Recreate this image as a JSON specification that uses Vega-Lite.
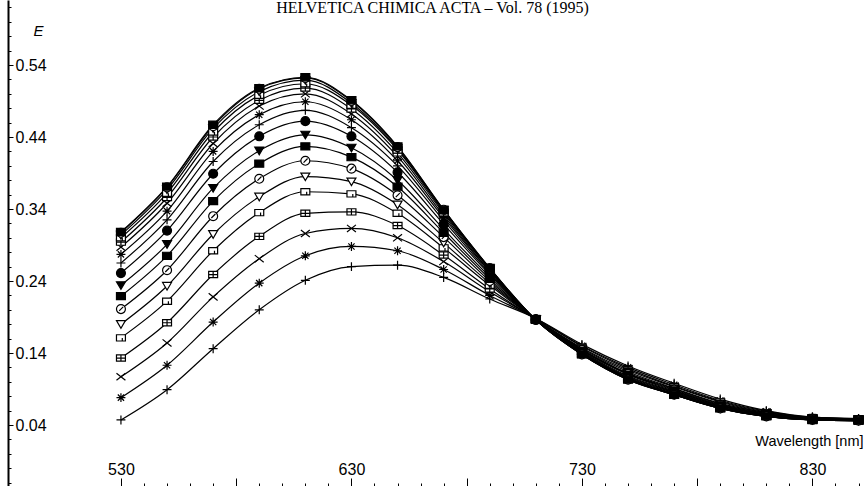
{
  "$schema": "https://vega.github.io/schema/vega-lite/v6.json",
  "width": 857,
  "height": 488,
  "autosize": {"type": "none"},
  "padding": {"left": 8, "top": 0, "right": 0, "bottom": 0},
  "background": "white",
  "config": {"view": {"stroke": null}, "font": "Liberation Sans"},
  "title": {"text": "HELVETICA CHIMICA ACTA – Vol. 78 (1995)", "font": "Liberation Serif", "fontSize": 16, "fontWeight": "normal", "color": "black", "anchor": "middle", "frame": "group", "offset": -17, "dx": -4},
  "data": {"values": [
    {"s":1,"nm":530,"E":0.047},{"s":1,"nm":550,"E":0.089},{"s":1,"nm":570,"E":0.146},{"s":1,"nm":590,"E":0.200},{"s":1,"nm":610,"E":0.241},{"s":1,"nm":630,"E":0.260},{"s":1,"nm":650,"E":0.262},{"s":1,"nm":670,"E":0.245},{"s":1,"nm":690,"E":0.215},{"s":1,"nm":710,"E":0.188},{"s":1,"nm":730,"E":0.152},{"s":1,"nm":750,"E":0.122},{"s":1,"nm":770,"E":0.098},{"s":1,"nm":790,"E":0.076},{"s":1,"nm":810,"E":0.060},{"s":1,"nm":830,"E":0.051},{"s":1,"nm":850,"E":0.049},
    {"s":2,"nm":530,"E":0.078},{"s":2,"nm":550,"E":0.123},{"s":2,"nm":570,"E":0.183},{"s":2,"nm":590,"E":0.237},{"s":2,"nm":610,"E":0.275},{"s":2,"nm":630,"E":0.288},{"s":2,"nm":650,"E":0.282},{"s":2,"nm":670,"E":0.256},{"s":2,"nm":690,"E":0.220},{"s":2,"nm":710,"E":0.188},{"s":2,"nm":730,"E":0.150},{"s":2,"nm":750,"E":0.120},{"s":2,"nm":770,"E":0.096},{"s":2,"nm":790,"E":0.074},{"s":2,"nm":810,"E":0.059},{"s":2,"nm":830,"E":0.051},{"s":2,"nm":850,"E":0.049},
    {"s":3,"nm":530,"E":0.107},{"s":3,"nm":550,"E":0.154},{"s":3,"nm":570,"E":0.218},{"s":3,"nm":590,"E":0.271},{"s":3,"nm":610,"E":0.306},{"s":3,"nm":630,"E":0.313},{"s":3,"nm":650,"E":0.300},{"s":3,"nm":670,"E":0.267},{"s":3,"nm":690,"E":0.225},{"s":3,"nm":710,"E":0.188},{"s":3,"nm":730,"E":0.149},{"s":3,"nm":750,"E":0.118},{"s":3,"nm":770,"E":0.094},{"s":3,"nm":790,"E":0.073},{"s":3,"nm":810,"E":0.058},{"s":3,"nm":830,"E":0.050},{"s":3,"nm":850,"E":0.048},
    {"s":4,"nm":530,"E":0.133},{"s":4,"nm":550,"E":0.182},{"s":4,"nm":570,"E":0.249},{"s":4,"nm":590,"E":0.302},{"s":4,"nm":610,"E":0.334},{"s":4,"nm":630,"E":0.336},{"s":4,"nm":650,"E":0.317},{"s":4,"nm":670,"E":0.276},{"s":4,"nm":690,"E":0.229},{"s":4,"nm":710,"E":0.187},{"s":4,"nm":730,"E":0.147},{"s":4,"nm":750,"E":0.116},{"s":4,"nm":770,"E":0.093},{"s":4,"nm":790,"E":0.072},{"s":4,"nm":810,"E":0.057},{"s":4,"nm":830,"E":0.050},{"s":4,"nm":850,"E":0.048},
    {"s":5,"nm":530,"E":0.161},{"s":5,"nm":550,"E":0.212},{"s":5,"nm":570,"E":0.282},{"s":5,"nm":590,"E":0.335},{"s":5,"nm":610,"E":0.364},{"s":5,"nm":630,"E":0.361},{"s":5,"nm":650,"E":0.334},{"s":5,"nm":670,"E":0.286},{"s":5,"nm":690,"E":0.234},{"s":5,"nm":710,"E":0.187},{"s":5,"nm":730,"E":0.146},{"s":5,"nm":750,"E":0.114},{"s":5,"nm":770,"E":0.091},{"s":5,"nm":790,"E":0.070},{"s":5,"nm":810,"E":0.057},{"s":5,"nm":830,"E":0.049},{"s":5,"nm":850,"E":0.048},
    {"s":6,"nm":530,"E":0.180},{"s":6,"nm":550,"E":0.233},{"s":6,"nm":570,"E":0.305},{"s":6,"nm":590,"E":0.357},{"s":6,"nm":610,"E":0.385},{"s":6,"nm":630,"E":0.378},{"s":6,"nm":650,"E":0.346},{"s":6,"nm":670,"E":0.293},{"s":6,"nm":690,"E":0.237},{"s":6,"nm":710,"E":0.187},{"s":6,"nm":730,"E":0.145},{"s":6,"nm":750,"E":0.112},{"s":6,"nm":770,"E":0.090},{"s":6,"nm":790,"E":0.069},{"s":6,"nm":810,"E":0.056},{"s":6,"nm":830,"E":0.049},{"s":6,"nm":850,"E":0.048},
    {"s":7,"nm":530,"E":0.201},{"s":7,"nm":550,"E":0.255},{"s":7,"nm":570,"E":0.330},{"s":7,"nm":590,"E":0.382},{"s":7,"nm":610,"E":0.407},{"s":7,"nm":630,"E":0.396},{"s":7,"nm":650,"E":0.359},{"s":7,"nm":670,"E":0.301},{"s":7,"nm":690,"E":0.240},{"s":7,"nm":710,"E":0.187},{"s":7,"nm":730,"E":0.144},{"s":7,"nm":750,"E":0.111},{"s":7,"nm":770,"E":0.089},{"s":7,"nm":790,"E":0.068},{"s":7,"nm":810,"E":0.055},{"s":7,"nm":830,"E":0.049},{"s":7,"nm":850,"E":0.047},
    {"s":8,"nm":530,"E":0.219},{"s":8,"nm":550,"E":0.275},{"s":8,"nm":570,"E":0.351},{"s":8,"nm":590,"E":0.403},{"s":8,"nm":610,"E":0.427},{"s":8,"nm":630,"E":0.412},{"s":8,"nm":650,"E":0.371},{"s":8,"nm":670,"E":0.307},{"s":8,"nm":690,"E":0.243},{"s":8,"nm":710,"E":0.187},{"s":8,"nm":730,"E":0.143},{"s":8,"nm":750,"E":0.110},{"s":8,"nm":770,"E":0.088},{"s":8,"nm":790,"E":0.067},{"s":8,"nm":810,"E":0.055},{"s":8,"nm":830,"E":0.048},{"s":8,"nm":850,"E":0.047},
    {"s":9,"nm":530,"E":0.234},{"s":9,"nm":550,"E":0.291},{"s":9,"nm":570,"E":0.369},{"s":9,"nm":590,"E":0.421},{"s":9,"nm":610,"E":0.443},{"s":9,"nm":630,"E":0.425},{"s":9,"nm":650,"E":0.380},{"s":9,"nm":670,"E":0.312},{"s":9,"nm":690,"E":0.246},{"s":9,"nm":710,"E":0.187},{"s":9,"nm":730,"E":0.142},{"s":9,"nm":750,"E":0.108},{"s":9,"nm":770,"E":0.087},{"s":9,"nm":790,"E":0.067},{"s":9,"nm":810,"E":0.054},{"s":9,"nm":830,"E":0.048},{"s":9,"nm":850,"E":0.047},
    {"s":10,"nm":530,"E":0.251},{"s":10,"nm":550,"E":0.310},{"s":10,"nm":570,"E":0.389},{"s":10,"nm":590,"E":0.441},{"s":10,"nm":610,"E":0.462},{"s":10,"nm":630,"E":0.441},{"s":10,"nm":650,"E":0.391},{"s":10,"nm":670,"E":0.319},{"s":10,"nm":690,"E":0.249},{"s":10,"nm":710,"E":0.186},{"s":10,"nm":730,"E":0.141},{"s":10,"nm":750,"E":0.107},{"s":10,"nm":770,"E":0.086},{"s":10,"nm":790,"E":0.066},{"s":10,"nm":810,"E":0.054},{"s":10,"nm":830,"E":0.048},{"s":10,"nm":850,"E":0.047},
    {"s":11,"nm":530,"E":0.265},{"s":11,"nm":550,"E":0.325},{"s":11,"nm":570,"E":0.406},{"s":11,"nm":590,"E":0.457},{"s":11,"nm":610,"E":0.477},{"s":11,"nm":630,"E":0.453},{"s":11,"nm":650,"E":0.400},{"s":11,"nm":670,"E":0.324},{"s":11,"nm":690,"E":0.251},{"s":11,"nm":710,"E":0.186},{"s":11,"nm":730,"E":0.140},{"s":11,"nm":750,"E":0.106},{"s":11,"nm":770,"E":0.085},{"s":11,"nm":790,"E":0.065},{"s":11,"nm":810,"E":0.053},{"s":11,"nm":830,"E":0.048},{"s":11,"nm":850,"E":0.047},
    {"s":12,"nm":530,"E":0.277},{"s":12,"nm":550,"E":0.337},{"s":12,"nm":570,"E":0.420},{"s":12,"nm":590,"E":0.471},{"s":12,"nm":610,"E":0.489},{"s":12,"nm":630,"E":0.464},{"s":12,"nm":650,"E":0.407},{"s":12,"nm":670,"E":0.328},{"s":12,"nm":690,"E":0.253},{"s":12,"nm":710,"E":0.186},{"s":12,"nm":730,"E":0.140},{"s":12,"nm":750,"E":0.105},{"s":12,"nm":770,"E":0.084},{"s":12,"nm":790,"E":0.065},{"s":12,"nm":810,"E":0.053},{"s":12,"nm":830,"E":0.048},{"s":12,"nm":850,"E":0.046},
    {"s":13,"nm":530,"E":0.287},{"s":13,"nm":550,"E":0.348},{"s":13,"nm":570,"E":0.431},{"s":13,"nm":590,"E":0.483},{"s":13,"nm":610,"E":0.500},{"s":13,"nm":630,"E":0.472},{"s":13,"nm":650,"E":0.413},{"s":13,"nm":670,"E":0.331},{"s":13,"nm":690,"E":0.254},{"s":13,"nm":710,"E":0.186},{"s":13,"nm":730,"E":0.139},{"s":13,"nm":750,"E":0.105},{"s":13,"nm":770,"E":0.083},{"s":13,"nm":790,"E":0.064},{"s":13,"nm":810,"E":0.053},{"s":13,"nm":830,"E":0.047},{"s":13,"nm":850,"E":0.046},
    {"s":14,"nm":530,"E":0.294},{"s":14,"nm":550,"E":0.356},{"s":14,"nm":570,"E":0.440},{"s":14,"nm":590,"E":0.491},{"s":14,"nm":610,"E":0.508},{"s":14,"nm":630,"E":0.479},{"s":14,"nm":650,"E":0.418},{"s":14,"nm":670,"E":0.334},{"s":14,"nm":690,"E":0.256},{"s":14,"nm":710,"E":0.186},{"s":14,"nm":730,"E":0.139},{"s":14,"nm":750,"E":0.104},{"s":14,"nm":770,"E":0.083},{"s":14,"nm":790,"E":0.064},{"s":14,"nm":810,"E":0.052},{"s":14,"nm":830,"E":0.047},{"s":14,"nm":850,"E":0.046},
    {"s":15,"nm":530,"E":0.300},{"s":15,"nm":550,"E":0.362},{"s":15,"nm":570,"E":0.447},{"s":15,"nm":590,"E":0.498},{"s":15,"nm":610,"E":0.514},{"s":15,"nm":630,"E":0.484},{"s":15,"nm":650,"E":0.422},{"s":15,"nm":670,"E":0.336},{"s":15,"nm":690,"E":0.257},{"s":15,"nm":710,"E":0.186},{"s":15,"nm":730,"E":0.138},{"s":15,"nm":750,"E":0.104},{"s":15,"nm":770,"E":0.082},{"s":15,"nm":790,"E":0.063},{"s":15,"nm":810,"E":0.052},{"s":15,"nm":830,"E":0.047},{"s":15,"nm":850,"E":0.046},
    {"s":16,"nm":530,"E":0.304},{"s":16,"nm":550,"E":0.367},{"s":16,"nm":570,"E":0.452},{"s":16,"nm":590,"E":0.503},{"s":16,"nm":610,"E":0.519},{"s":16,"nm":630,"E":0.487},{"s":16,"nm":650,"E":0.424},{"s":16,"nm":670,"E":0.338},{"s":16,"nm":690,"E":0.257},{"s":16,"nm":710,"E":0.186},{"s":16,"nm":730,"E":0.138},{"s":16,"nm":750,"E":0.103},{"s":16,"nm":770,"E":0.082},{"s":16,"nm":790,"E":0.063},{"s":16,"nm":810,"E":0.052},{"s":16,"nm":830,"E":0.047},{"s":16,"nm":850,"E":0.046},
    {"s":17,"nm":530,"E":0.307},{"s":17,"nm":550,"E":0.370},{"s":17,"nm":570,"E":0.455},{"s":17,"nm":590,"E":0.507},{"s":17,"nm":610,"E":0.522},{"s":17,"nm":630,"E":0.490},{"s":17,"nm":650,"E":0.426},{"s":17,"nm":670,"E":0.339},{"s":17,"nm":690,"E":0.258},{"s":17,"nm":710,"E":0.186},{"s":17,"nm":730,"E":0.138},{"s":17,"nm":750,"E":0.103},{"s":17,"nm":770,"E":0.082},{"s":17,"nm":790,"E":0.063},{"s":17,"nm":810,"E":0.052},{"s":17,"nm":830,"E":0.047},{"s":17,"nm":850,"E":0.046},
    {"s":18,"nm":530,"E":0.308},{"s":18,"nm":550,"E":0.371},{"s":18,"nm":570,"E":0.457},{"s":18,"nm":590,"E":0.508},{"s":18,"nm":610,"E":0.523},{"s":18,"nm":630,"E":0.491},{"s":18,"nm":650,"E":0.427},{"s":18,"nm":670,"E":0.339},{"s":18,"nm":690,"E":0.258},{"s":18,"nm":710,"E":0.186},{"s":18,"nm":730,"E":0.138},{"s":18,"nm":750,"E":0.103},{"s":18,"nm":770,"E":0.082},{"s":18,"nm":790,"E":0.063},{"s":18,"nm":810,"E":0.052},{"s":18,"nm":830,"E":0.047},{"s":18,"nm":850,"E":0.046}
  ]},
  "encoding": {
    "x": {"field": "nm", "type": "quantitative",
      "scale": {"domain": [481, 852.8], "nice": false, "zero": false},
      "axis": {"orient": "top", "offset": -488, "domain": false, "grid": false,
        "values": [530,540,550,560,570,580,590,600,610,620,630,640,650,660,670,680,690,700,710,720,730,740,750,760,770,780,790,800,810,820,830,840,850],
        "tickColor": "black", "tickWidth": 1,
        "tickSize": {"condition": {"test": "datum.value % 50 == 30", "value": 10}, "value": 5},
        "labelExpr": "datum.value % 100 == 30 ? datum.label : ''",
        "labelFont": "Liberation Sans", "labelFontSize": 16, "labelColor": "black", "labelPadding": 1,
        "labelOverlap": false, "labelFlush": false,
        "title": "Wavelength [nm]", "titleFont": "Liberation Sans", "titleFontSize": 14.5, "titleFontWeight": "normal", "titleColor": "black",
        "titleX": 855, "titleY": -47, "titleAlign": "right", "titleBaseline": "middle", "titleAngle": 0}},
    "y": {"field": "E", "type": "quantitative",
      "scale": {"domain": [-0.0475, 0.6303], "nice": false, "zero": false},
      "axis": {"orient": "right", "offset": -857, "domain": true, "domainColor": "black", "domainWidth": 2, "grid": false,
        "values": [-0.04,-0.02,0,0.02,0.04,0.06,0.08,0.1,0.12,0.14,0.16,0.18,0.2,0.22,0.24,0.26,0.28,0.3,0.32,0.34,0.36,0.38,0.4,0.42,0.44,0.46,0.48,0.5,0.52,0.54,0.56,0.58,0.6,0.62],
        "tickColor": "black", "tickWidth": 1,
        "tickSize": {"condition": {"test": "round(datum.value*100) % 10 == 4", "value": 5}, "value": 3},
        "labelExpr": "round(datum.value*100) % 10 == 4 ? format(datum.value, '.2f') : ''",
        "labelAlign": "left", "labelPadding": 2, "labelFont": "Liberation Sans", "labelFontSize": 16, "labelColor": "black",
        "labelOverlap": false, "labelFlush": false,
        "title": "E", "titleAngle": 0, "titleFont": "Liberation Sans", "titleFontStyle": "italic", "titleFontWeight": "normal", "titleFontSize": 15, "titleColor": "black",
        "titleX": 25, "titleY": 30, "titleAlign": "left", "titleBaseline": "middle"}}
  },
  "layer": [
    {"mark": {"type": "line", "color": "black", "strokeWidth": 1.2, "interpolate": "monotone"},
     "encoding": {"detail": {"field": "s", "type": "nominal"}}},
    {"mark": {"type": "point", "filled": true, "stroke": "black", "strokeWidth": 1.2, "size": 80, "opacity": 1},
     "encoding": {
       "shape": {"field": "s", "type": "nominal", "legend": null,
         "scale": {"domain": [1,2,3,4,5,6,7,8,9,10,11,12,13,14,15,16,17,18],
           "range": ["M-1,0H1M0,-1V1","M-1,0H1M0,-1V1M-0.7,-0.7L0.7,0.7M-0.7,0.7L0.7,-0.7","M-1,-0.8L1,0.8M-1,0.8L1,-0.8","M-1,-0.7H1V0.7H-1ZM-1,0H1M0,-0.7V0.7","M-1,-0.7H1V0.7H-1ZM0.3,0.7V0","M-1,-0.8H1L0,0.9Z","M-1,0A1,1,0,1,1,1,0A1,1,0,1,1,-1,0ZM-0.4,0.4L0.5,-0.5","M-1,-0.8H1V0.8H-1Z","M-1,-0.8H1L0,0.9Z","circle",
                     "M-1,0H1M0,-1V1","M-1,0H1M0,-1V1M-0.7,-0.7L0.7,0.7M-0.7,0.7L0.7,-0.7","M-1,-0.8L1,0.8M-1,0.8L1,-0.8","M-1,-0.7H1V0.7H-1ZM-1,0H1M0,-0.7V0.7","M-1,-0.7H1V0.7H-1ZM0.3,0.7V0","M-1,-0.8H1L0,0.9Z","M-1,0A1,1,0,1,1,1,0A1,1,0,1,1,-1,0ZM-0.4,0.4L0.5,-0.5","M-1,-0.8H1V0.8H-1Z"]}},
       "fill": {"field": "s", "type": "nominal", "legend": null,
         "scale": {"domain": [1,2,3,4,5,6,7,8,9,10,11,12,13,14,15,16,17,18],
           "range": ["white","white","white","white","white","white","white","black","black","black","white","white","white","white","white","white","white","black"]}}
     }}
  ]
}
